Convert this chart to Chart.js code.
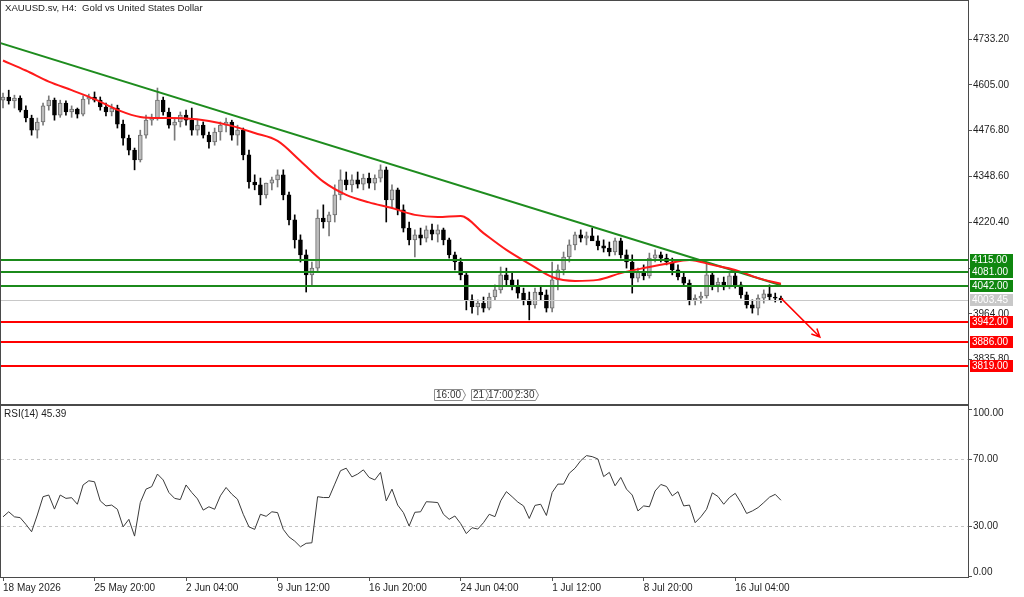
<!DOCTYPE html>
<html>
<head>
<meta charset="utf-8">
<script src="https://cdn.jsdelivr.net/npm/chart.js@4.4.1/dist/chart.umd.min.js"></script>
<style>
    html, body { margin: 0; padding: 0; background: #fff; }
    #wrap { position: relative; width: 1024px; height: 597px; overflow: hidden; }
    #priceChart { position: absolute; left: 0; top: 0; }
    #rsiChart { position: absolute; left: 0; top: 405px; }
</style>
</head>
<body>
<div id="wrap">
    <canvas id="priceChart" width="1024" height="405"></canvas>
    <canvas id="rsiChart" width="1024" height="192"></canvas>
</div>
<script>
// time axis labels, one every LABEL_STEP bars
const dateLabels = ['18 May 2026', '25 May 20:00', '2 Jun 04:00', '9 Jun 12:00', '16 Jun 20:00',
    '24 Jun 04:00', '1 Jul 12:00', '8 Jul 20:00', '16 Jul 04:00'];
const LABEL_STEP = 16;

// candles
const opens = [4562, 4571, 4560, 4568, 4534, 4512, 4478, 4501, 4546, 4562,
    4520, 4554, 4529, 4537, 4523, 4565, 4571, 4562, 4543, 4529,
    4540, 4495, 4456, 4422, 4395, 4464, 4506, 4512, 4562, 4529,
    4492, 4501, 4520, 4506, 4478, 4492, 4464, 4445, 4473, 4492,
    4501, 4464, 4478, 4409, 4333, 4325, 4297, 4330, 4339, 4353,
    4297, 4227, 4171, 4129, 4073, 4092, 4232, 4221, 4241, 4297,
    4339, 4325, 4339, 4327, 4344, 4330, 4344, 4367, 4283, 4311,
    4255, 4204, 4171, 4185, 4176, 4199, 4187, 4199, 4171, 4129,
    4109, 4073, 4003, 3983, 3994, 3980, 4011, 4031, 4073, 4059,
    4042, 4022, 4003, 3989, 4025, 4017, 3980, 4059, 4087, 4123,
    4157, 4185, 4176, 4182, 4168, 4154, 4148, 4137, 4168, 4129,
    4109, 4064, 4081, 4070, 4120, 4129, 4120, 4109, 4087, 4067,
    4050, 4003, 4008, 4014, 4073, 4045, 4053, 4039, 4070, 4045,
    4017, 3989, 3980, 4008, 4020, 4011, 4008];
const highs = [4582, 4590, 4576, 4574, 4546, 4520, 4512, 4554, 4574, 4568,
    4562, 4560, 4546, 4540, 4574, 4579, 4585, 4571, 4554, 4551,
    4548, 4506, 4464, 4428, 4478, 4520, 4523, 4596, 4571, 4540,
    4512, 4529, 4534, 4540, 4506, 4501, 4473, 4484, 4501, 4512,
    4506, 4492, 4484, 4422, 4353, 4344, 4330, 4347, 4367, 4367,
    4305, 4241, 4185, 4143, 4109, 4255, 4269, 4249, 4325, 4367,
    4361, 4353, 4361, 4355, 4358, 4353, 4381, 4375, 4325, 4316,
    4269, 4221, 4199, 4204, 4210, 4215, 4213, 4204, 4176, 4137,
    4120, 4081, 4017, 4003, 4011, 4022, 4045, 4095, 4092, 4078,
    4059, 4036, 4025, 4036, 4039, 4031, 4109, 4101, 4137, 4171,
    4193, 4199, 4193, 4204, 4182, 4171, 4165, 4176, 4176, 4143,
    4129, 4092, 4101, 4134, 4143, 4137, 4131, 4120, 4101, 4081,
    4059, 4017, 4025, 4106, 4081, 4064, 4067, 4081, 4078, 4053,
    4025, 4003, 4017, 4031, 4045, 4022, 4014];
const lows = [4540, 4551, 4540, 4529, 4501, 4464, 4456, 4492, 4534, 4506,
    4514, 4520, 4514, 4512, 4518, 4551, 4557, 4534, 4518, 4518,
    4484, 4436, 4409, 4367, 4389, 4456, 4492, 4506, 4520, 4484,
    4450, 4487, 4492, 4464, 4464, 4456, 4428, 4436, 4450, 4473,
    4450, 4436, 4395, 4316, 4311, 4269, 4288, 4311, 4319, 4283,
    4213, 4148, 4109, 4025, 4045, 4081, 4204, 4182, 4221, 4283,
    4311, 4305, 4316, 4311, 4316, 4311, 4333, 4221, 4260, 4241,
    4193, 4157, 4123, 4157, 4165, 4171, 4165, 4157, 4120, 4087,
    4059, 3975, 3966, 3961, 3969, 3975, 4003, 4022, 4045, 4031,
    4008, 3989, 3947, 3980, 4003, 3969, 3969, 4031, 4073, 4109,
    4143, 4165, 4157, 4171, 4143, 4137, 4126, 4129, 4120, 4092,
    4022, 4053, 4059, 4064, 4109, 4109, 4101, 4073, 4059, 4045,
    3989, 3989, 3994, 4008, 4031, 4025, 4031, 4034, 4036, 4008,
    3980, 3966, 3961, 3994, 4003, 3997, 3996];
const closes = [4571, 4560, 4568, 4534, 4512, 4478, 4501, 4546, 4562, 4520,
    4554, 4529, 4537, 4523, 4565, 4571, 4562, 4543, 4529, 4540,
    4495, 4456, 4422, 4395, 4464, 4506, 4512, 4562, 4529, 4492,
    4501, 4520, 4506, 4478, 4492, 4464, 4445, 4473, 4492, 4501,
    4464, 4478, 4409, 4333, 4325, 4297, 4330, 4339, 4353, 4297,
    4227, 4171, 4129, 4073, 4092, 4232, 4221, 4241, 4297, 4339,
    4325, 4339, 4327, 4344, 4330, 4344, 4367, 4283, 4311, 4255,
    4204, 4171, 4185, 4176, 4199, 4187, 4199, 4171, 4129, 4109,
    4073, 4003, 3983, 3994, 3980, 4011, 4031, 4073, 4059, 4042,
    4022, 4003, 3989, 4025, 4017, 3980, 4059, 4087, 4123, 4157,
    4185, 4176, 4182, 4168, 4154, 4148, 4137, 4168, 4129, 4109,
    4064, 4081, 4070, 4120, 4129, 4120, 4109, 4087, 4067, 4050,
    4003, 4008, 4014, 4073, 4045, 4053, 4039, 4070, 4045, 4017,
    3989, 3980, 4008, 4020, 4011, 4008, 4003.45];

// red moving average, one value every MA_STEP bars
const MA_STEP = 4;
const maValues = [4673, 4645, 4614, 4590, 4565, 4535, 4515, 4512, 4511, 4504,
    4490, 4470, 4448, 4392, 4334, 4297, 4276, 4260, 4241, 4235,
    4238, 4190, 4143, 4104, 4067, 4056, 4059, 4078, 4092, 4104,
    4115, 4101, 4087, 4064, 4048];

// RSI(14), one value per bar
const rsiValues = [35.5, 38.5, 35.5, 35, 31, 26.6, 36.6, 47.5, 48.5, 40.1,
    48.5, 46.5, 46.9, 43, 54.5, 57, 56.4, 45, 42, 42.5,
    40, 29.5, 34, 24, 44, 52, 53.5, 61, 57.5, 50,
    46.5, 45.8, 54.5, 50, 46.2, 39.5, 41.5, 40, 48, 53,
    49, 46, 37, 29.5, 28, 37, 35.8, 38.5, 38, 28,
    23.5, 21, 17.6, 19.7, 20, 47.5, 47, 47, 55, 63,
    64.5, 59.3, 61, 63.5, 59, 57.5, 62, 45, 52, 42.5,
    38, 30, 38.2, 38.5, 44.5, 44.3, 44, 37, 34, 36,
    31.5, 25.5, 29, 28.2, 32, 37, 35.6, 45, 50.5, 47.5,
    44.3, 42, 34.5, 42.3, 43, 36.3, 50, 55, 55, 61.5,
    64.5, 69, 72, 71.4, 70, 59.5, 62, 54, 59, 52,
    48.5, 39, 42, 41.5, 50.9, 54.8, 53.6, 48, 50.5, 42,
    42.5, 32, 35.5, 40, 49.8, 47.6, 43, 47, 49.5, 44,
    37.5, 39, 41, 44, 47.2, 48.9, 45.39];

// drawn objects
const trendBars = [-0.5, 136];
const trendPrices = [4722, 4044];
const arrowBars = [136, 142.8];
const arrowPrices = [4008, 3899];
const greenLevels = [4115, 4081, 4042];
const redLevels = [3942, 3886, 3819];
const lastPrice = 4003.45;
const eventLabels = ['16:00', '21', '17:00', '2:30'];
const eventBars = [75.35, 81.8, 84.4, 89.2];

const priceTicks = [4733.20, 4605.00, 4476.80, 4348.60, 4220.40, 4092.20, 3964.00, 3835.80];
const rsiTicks = [100, 70, 30, 0];
const rsiGuides = [70, 30];

const X_MIN = -0.35, X_MAX = 168.7;
const PRICE_MIN = 3711.6, PRICE_MAX = 4839.6;
const RSI_MIN = -0.4, RSI_MAX = 101.6;
const FONT = '"Liberation Sans", Arial, sans-serif';
const TEXT = '#1e1e1e';
const FRAME = '#4a4a4a';

Chart.defaults.font.family = FONT;
Chart.defaults.font.size = 10;
Chart.defaults.color = TEXT;
Chart.defaults.animation = false;

const bars = closes.map((_, i) => i);
const isUp = i => closes[i] >= opens[i];

function hLine(ctx, area, py, color, width) {
    const yy = width % 2 === 1 ? Math.round(py) + 0.5 : Math.round(py);
    ctx.strokeStyle = color;
    ctx.lineWidth = width;
    ctx.beginPath();
    ctx.moveTo(area.left, yy);
    ctx.lineTo(area.right, yy);
    ctx.stroke();
}

function priceBox(ctx, area, py, value, bg) {
    ctx.fillStyle = bg;
    ctx.fillRect(area.right + 2, Math.round(py) - 6, 43, 12);
    ctx.fillStyle = '#fff';
    ctx.textAlign = 'left';
    ctx.textBaseline = 'middle';
    ctx.fillText(value.toFixed(2), area.right + 4, Math.round(py) + 0.5);
}

// stop Chart.js from reserving half a label above and below the vertical axes
function fixVertical(width) {
    return s => {
        s.width = width;
        s.paddingTop = 0;
        s.paddingBottom = 0;
    };
}

const priceDecor = {
    id: 'priceDecor',
    afterDatasetsDraw(chart) {
        const { ctx, chartArea: a, scales: { x, y } } = chart;
        ctx.save();
        ctx.beginPath();
        ctx.rect(a.left, a.top, a.width, a.height);
        ctx.clip();
        hLine(ctx, a, y.getPixelForValue(lastPrice), '#c8c8c8', 1);
        greenLevels.forEach(v => hLine(ctx, a, y.getPixelForValue(v), '#1b8a1b', 2));
        redLevels.forEach(v => hLine(ctx, a, y.getPixelForValue(v), '#ff0000', 2));

        // arrow
        const x0 = x.getPixelForValue(arrowBars[0]), y0 = y.getPixelForValue(arrowPrices[0]);
        const x1 = x.getPixelForValue(arrowBars[1]), y1 = y.getPixelForValue(arrowPrices[1]);
        const ang = Math.atan2(y1 - y0, x1 - x0);
        ctx.strokeStyle = '#ff0000';
        ctx.lineWidth = 1.5;
        ctx.beginPath();
        ctx.moveTo(x0, y0);
        ctx.lineTo(x1, y1);
        ctx.moveTo(x1 - 9 * Math.cos(ang - 0.45), y1 - 9 * Math.sin(ang - 0.45));
        ctx.lineTo(x1, y1);
        ctx.lineTo(x1 - 9 * Math.cos(ang + 0.45), y1 - 9 * Math.sin(ang + 0.45));
        ctx.stroke();

        // calendar event flags at the bottom
        ctx.font = '10px ' + FONT;
        ctx.textBaseline = 'middle';
        ctx.textAlign = 'left';
        for (let k = eventLabels.length - 1; k >= 0; k--) {
            const bx = Math.round(x.getPixelForValue(eventBars[k])) + 0.5;
            const w = Math.ceil(ctx.measureText(eventLabels[k]).width) + 5;
            const top = a.bottom - 14.5, bot = a.bottom - 3.5;
            ctx.beginPath();
            ctx.moveTo(bx, top);
            ctx.lineTo(bx + w - 3, top);
            ctx.lineTo(bx + w, (top + bot) / 2);
            ctx.lineTo(bx + w - 3, bot);
            ctx.lineTo(bx, bot);
            ctx.closePath();
            ctx.fillStyle = '#fff';
            ctx.fill();
            ctx.strokeStyle = '#8c8c8c';
            ctx.lineWidth = 1;
            ctx.stroke();
            ctx.fillStyle = '#333';
            ctx.fillText(eventLabels[k], bx + 1.5, (top + bot) / 2 + 0.5);
        }
        ctx.restore();
    },
    afterDraw(chart) {
        const { ctx, chartArea: a, scales: { y } } = chart;
        ctx.save();
        ctx.strokeStyle = FRAME;
        ctx.lineWidth = 1;
        ctx.strokeRect(a.left - 0.5, a.top - 0.5, a.width + 1, a.height + 1);

        ctx.font = '9.6px ' + FONT;
        ctx.fillStyle = TEXT;
        ctx.textAlign = 'left';
        ctx.textBaseline = 'middle';
        ctx.fillText('XAUUSD.sv, H4:  Gold vs United States Dollar', 5, 8);

        ctx.font = '10px ' + FONT;
        priceBox(ctx, a, y.getPixelForValue(lastPrice), lastPrice, '#c8c8c8');
        greenLevels.forEach(v => priceBox(ctx, a, y.getPixelForValue(v), v, '#0f870f'));
        redLevels.forEach(v => priceBox(ctx, a, y.getPixelForValue(v), v, '#ff0000'));
        ctx.restore();
    }
};

const rsiDecor = {
    id: 'rsiDecor',
    beforeDatasetsDraw(chart) {
        const { ctx, chartArea: a, scales: { y } } = chart;
        ctx.save();
        ctx.strokeStyle = '#c4c4c4';
        ctx.lineWidth = 1;
        ctx.setLineDash([3, 3]);
        rsiGuides.forEach(v => {
            const py = Math.round(y.getPixelForValue(v)) + 0.5;
            ctx.beginPath();
            ctx.moveTo(a.left, py);
            ctx.lineTo(a.right, py);
            ctx.stroke();
        });
        ctx.restore();
    },
    afterDraw(chart) {
        const { ctx, chartArea: a, scales: { y } } = chart;
        ctx.save();
        ctx.strokeStyle = FRAME;
        ctx.lineWidth = 1;
        ctx.strokeRect(a.left - 0.5, a.top - 0.5, a.width + 1, a.height + 1);

        ctx.font = '10px ' + FONT;
        ctx.fillStyle = TEXT;
        ctx.textAlign = 'left';
        ctx.textBaseline = 'middle';
        ctx.fillText('RSI(14) ' + rsiValues[rsiValues.length - 1].toFixed(2), 4, a.top + 8);

        rsiTicks.forEach(v => {
            const py = y.getPixelForValue(v);
            const ly = Math.min(Math.max(py, a.top + 7), a.bottom - 5);
            ctx.strokeStyle = '#555';
            ctx.beginPath();
            ctx.moveTo(a.right, Math.round(py) + 0.5);
            ctx.lineTo(a.right + 4, Math.round(py) + 0.5);
            ctx.stroke();
            ctx.fillText(v.toFixed(2), a.right + 5, ly);
        });
        ctx.restore();
    }
};

new Chart(document.getElementById('priceChart'), {
    type: 'bar',
    data: {
        datasets: [
            {
                type: 'line',
                data: trendBars.map((b, k) => ({ x: b, y: trendPrices[k] })),
                borderColor: '#1e8c1e',
                borderWidth: 2,
                pointRadius: 0,
                order: 1
            },
            {
                type: 'line',
                data: maValues.map((v, k) => ({ x: k * MA_STEP, y: v })),
                borderColor: '#ff1a1a',
                borderWidth: 2,
                pointRadius: 0,
                tension: 0.4,
                cubicInterpolationMode: 'monotone',
                order: 0
            },
            {
                data: bars.map(i => ({ x: i, y: [lows[i], highs[i]] })),
                backgroundColor: bars.map(i => isUp(i) ? '#7a7a7a' : '#000'),
                barThickness: 1,
                grouped: false,
                order: 3
            },
            {
                data: bars.map(i => ({ x: i, y: [opens[i], closes[i]] })),
                backgroundColor: bars.map(i => isUp(i) ? '#bdbdbd' : '#000'),
                borderColor: bars.map(i => isUp(i) ? '#6e6e6e' : '#000'),
                borderWidth: 1,
                borderSkipped: false,
                barThickness: 4,
                minBarLength: 1,
                grouped: false,
                order: 2
            }
        ]
    },
    options: {
        responsive: false,
        events: [],
        layout: { padding: { left: 1, top: 1, bottom: 1, right: 0 } },
        plugins: { legend: { display: false }, tooltip: { enabled: false } },
        scales: {
            x: {
                type: 'linear',
                min: X_MIN,
                max: X_MAX,
                offset: false,
                display: false
            },
            y: {
                type: 'linear',
                position: 'right',
                min: PRICE_MIN,
                max: PRICE_MAX,
                afterBuildTicks: s => { s.ticks = priceTicks.map(v => ({ value: v })); },
                afterFit: fixVertical(56),
                ticks: {
                    padding: 1,
                    color: TEXT,
                    font: { size: 10 },
                    callback: v => Number(v).toFixed(2)
                },
                grid: { drawOnChartArea: false, drawTicks: true, tickLength: 4, tickColor: '#555' },
                border: { display: false }
            }
        }
    },
    plugins: [priceDecor]
});

new Chart(document.getElementById('rsiChart'), {
    type: 'line',
    data: {
        datasets: [{
            data: rsiValues.map((v, i) => ({ x: i, y: v })),
            borderColor: '#3a3a3a',
            borderWidth: 1,
            pointRadius: 0,
            tension: 0
        }]
    },
    options: {
        responsive: false,
        events: [],
        layout: { padding: { left: 1, top: 1, bottom: 0, right: 0 } },
        plugins: { legend: { display: false }, tooltip: { enabled: false } },
        scales: {
            x: {
                type: 'linear',
                min: X_MIN,
                max: X_MAX,
                offset: false,
                afterBuildTicks: s => { s.ticks = dateLabels.map((_, k) => ({ value: k * LABEL_STEP })); },
                afterFit: s => { s.height = 20; s.paddingLeft = 0; s.paddingRight = 0; },
                ticks: {
                    autoSkip: false,
                    maxRotation: 0,
                    align: 'start',
                    padding: 1,
                    color: TEXT,
                    font: { size: 10 },
                    callback: (v, idx) => dateLabels[idx]
                },
                grid: { drawOnChartArea: false, drawTicks: true, tickLength: 4, tickColor: '#555' },
                border: { display: false }
            },
            y: {
                type: 'linear',
                position: 'right',
                min: RSI_MIN,
                max: RSI_MAX,
                afterFit: fixVertical(56),
                ticks: { display: false },
                grid: { display: false },
                border: { display: false }
            }
        }
    },
    plugins: [rsiDecor]
});
</script>
</body>
</html>
